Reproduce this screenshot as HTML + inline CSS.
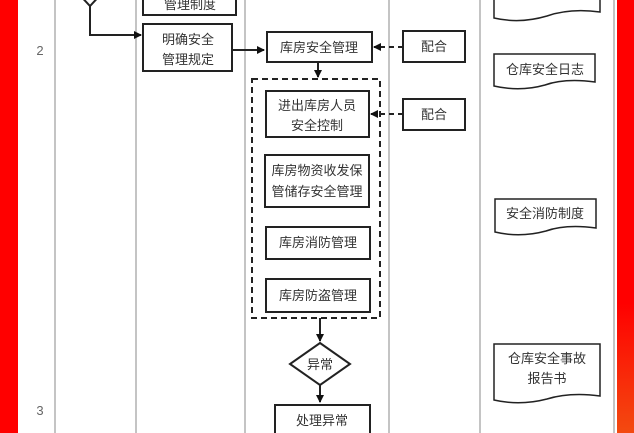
<!DOCTYPE html>
<html><head><meta charset="utf-8"><style>
html,body{margin:0;padding:0;background:#fff}
svg{display:block}
text{font-family:"Liberation Sans","Noto Sans CJK SC",sans-serif;font-size:13px;fill:#333;text-anchor:middle}
</style></head><body>
<svg width="634" height="433" viewBox="0 0 634 433" xmlns="http://www.w3.org/2000/svg">
<defs>
<linearGradient id="rg" x1="0" y1="0" x2="0" y2="1"><stop offset="0" stop-color="#f00"/><stop offset="0.7" stop-color="#f00"/><stop offset="1" stop-color="#f34a10"/></linearGradient>
<marker id="a" markerWidth="8" markerHeight="8" refX="7" refY="4" orient="auto" markerUnits="userSpaceOnUse"><path d="M0,0 L8,4 L0,8z" fill="#111"/></marker>
</defs>
<rect x="0" y="0" width="634" height="433" fill="#fff"/>
<rect x="0" y="0" width="18" height="433" fill="#f00"/>
<rect x="617" y="0" width="17" height="433" fill="url(#rg)"/>
<g stroke="#888" stroke-width="1">
<line x1="55" y1="0" x2="55" y2="433"/>
<line x1="136" y1="0" x2="136" y2="433"/>
<line x1="245" y1="0" x2="245" y2="433"/>
<line x1="389" y1="0" x2="389" y2="433"/>
<line x1="480" y1="0" x2="480" y2="433"/>
<line x1="614" y1="0" x2="614" y2="433"/>
</g>
<text x="40" y="55" style="fill:#666">2</text>
<text x="40" y="415" style="fill:#666">3</text>
<g stroke="#222" stroke-width="2" fill="#fff">
<path d="M75,-10 L90,6 L105,-10" fill="none"/>
<path d="M90,6 V35 H141" fill="none" marker-end="url(#a)"/>
<rect x="143" y="-10" width="93" height="25"/>
<rect x="143" y="24" width="89" height="47"/>
<path d="M232,50 H264" fill="none" marker-end="url(#a)"/>
<rect x="267" y="32" width="105" height="30"/>
<path d="M318,62 V77" fill="none" marker-end="url(#a)"/>
<rect x="252" y="79" width="128" height="239" fill="none" stroke-dasharray="6,4"/>
<rect x="403" y="31" width="62" height="31"/>
<rect x="403" y="99" width="62" height="31"/>
<path d="M403,47 H374" fill="none" stroke-dasharray="5,4" marker-end="url(#a)"/>
<path d="M403,114 H371" fill="none" stroke-dasharray="5,4" marker-end="url(#a)"/>
<rect x="266" y="91" width="103" height="46"/>
<rect x="265" y="155" width="104" height="52"/>
<rect x="266" y="227" width="104" height="32"/>
<rect x="266" y="279" width="104" height="33"/>
<path d="M320,318 V341" fill="none" marker-end="url(#a)"/>
<path d="M320,343 L350,364 L320,385 L290,364 Z"/>
<path d="M320,385 V402" fill="none" marker-end="url(#a)"/>
<rect x="275" y="405" width="95" height="40"/>
</g>
<g stroke="#222" stroke-width="1.5" fill="#fff">
<path d="M494,-5 H600 V12 Q570,8 547,16 Q520,24 494,18 Z"/>
<path d="M494,54 H595 V82 Q565,78 545,85 Q520,92 494,86 Z"/>
<path d="M495,199 H596 V228 Q566,224 546,231 Q520,238 495,232 Z"/>
<path d="M494,344 H600 V396 Q570,392 547,399 Q520,406 494,400 Z"/>
</g>
<text x="190" y="9">管理制度</text>
<text x="188" y="44">明确安全</text>
<text x="188" y="64">管理规定</text>
<text x="319" y="52">库房安全管理</text>
<text x="434" y="51">配合</text>
<text x="434" y="119">配合</text>
<text x="317" y="110">进出库房人员</text>
<text x="317" y="130">安全控制</text>
<text x="317" y="175">库房物资收发保</text>
<text x="317" y="196">管储存安全管理</text>
<text x="318" y="247">库房消防管理</text>
<text x="318" y="300">库房防盗管理</text>
<text x="320" y="369">异常</text>
<text x="322" y="425">处理异常</text>
<text x="545" y="74">仓库安全日志</text>
<text x="545" y="218">安全消防制度</text>
<text x="547" y="363">仓库安全事故</text>
<text x="547" y="383">报告书</text>
</svg>
</body></html>
